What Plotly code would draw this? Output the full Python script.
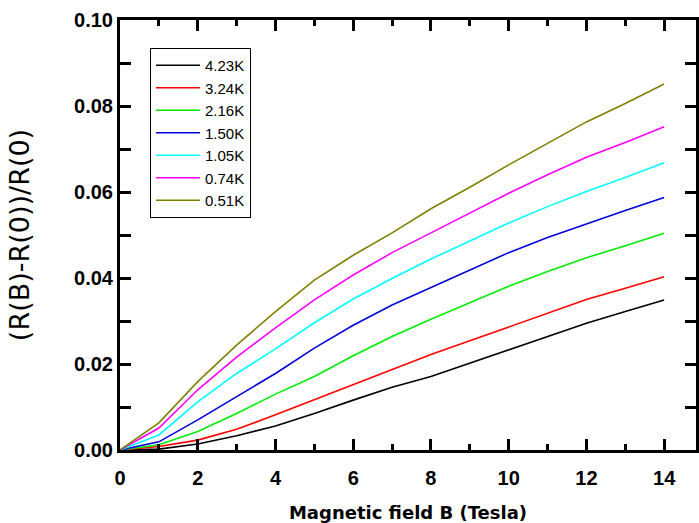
import plotly.graph_objects as go

field = [0, 1, 2, 3, 4, 5, 6, 7, 8, 9, 10, 11, 12, 13, 14]
labels = ["4.23K", "3.24K", "2.16K", "1.50K", "1.05K", "0.74K", "0.51K"]
r_423 = [0, 0.0002, 0.0014, 0.0033, 0.0056, 0.0085, 0.0116, 0.0146, 0.0171, 0.0202, 0.0233, 0.0264, 0.0295, 0.0322, 0.0349]
r_324 = [0, 0.0008, 0.0023, 0.0048, 0.0082, 0.0117, 0.0151, 0.0186, 0.0222, 0.0254, 0.0286, 0.0318, 0.0350, 0.0376, 0.0403]
r_216 = [0, 0.0012, 0.0043, 0.0085, 0.0130, 0.0171, 0.0219, 0.0264, 0.0304, 0.0342, 0.0381, 0.0415, 0.0447, 0.0475, 0.0504]
r_150 = [0, 0.0019, 0.0070, 0.0124, 0.0178, 0.0237, 0.0290, 0.0337, 0.0378, 0.0419, 0.0459, 0.0494, 0.0526, 0.0557, 0.0587]
r_105 = [0, 0.0035, 0.0112, 0.0178, 0.0235, 0.0296, 0.0351, 0.0399, 0.0444, 0.0486, 0.0528, 0.0566, 0.0601, 0.0634, 0.0668]
r_074 = [0, 0.0051, 0.0140, 0.0216, 0.0284, 0.0349, 0.0407, 0.0459, 0.0505, 0.0551, 0.0597, 0.0640, 0.0681, 0.0715, 0.0752]
r_051 = [0, 0.0063, 0.0159, 0.0244, 0.0322, 0.0395, 0.0453, 0.0505, 0.0561, 0.0611, 0.0663, 0.0714, 0.0763, 0.0806, 0.0851]
series = [r_423, r_324, r_216, r_150, r_105, r_074, r_051]
colors = ["#000000", "#ff0000", "#00ee00", "#0000dd", "#00ffff", "#ff00ff", "#808000"]

fig = go.Figure()
for lab, ys, c in zip(labels, series, colors):
    fig.add_trace(go.Scatter(x=field, y=ys, mode="lines", name=lab,
                             line=dict(color=c, width=1.6)))

tickfont = dict(family="Liberation Sans", size=20, color="black", weight="bold")
fig.update_layout(
    width=699, height=523,
    margin=dict(l=120, r=0, t=20, b=73),
    paper_bgcolor="white", plot_bgcolor="white",
    showlegend=True,
    legend=dict(x=0.052, y=0.935, xanchor="left", yanchor="top",
                bordercolor="black", borderwidth=1, bgcolor="white",
                font=dict(family="Liberation Sans", size=15, color="black"),
                tracegroupgap=0, itemwidth=44),
    xaxis=dict(range=[0, 14.82], tickvals=[0, 2, 4, 6, 8, 10, 12, 14],
               ticks="inside", ticklen=11, tickwidth=2.5, tickcolor="black",
               minor=dict(dtick=1, ticks="inside", ticklen=6, tickwidth=2.5, tickcolor="black"),
               showline=True, linewidth=3, linecolor="black", mirror="ticks",
               showgrid=False, zeroline=False, tickfont=tickfont, ticklabelstandoff=8,
               title=dict(text="Magnetic field B (Tesla)", standoff=19,
                          font=dict(family="DejaVu Sans", size=18, color="black", weight="bold"))),
    yaxis=dict(range=[0, 0.10], tickvals=[0, 0.02, 0.04, 0.06, 0.08, 0.10],
               ticktext=["0.00", "0.02", "0.04", "0.06", "0.08", "0.10"],
               ticks="inside", ticklen=11, tickwidth=2.5, tickcolor="black",
               minor=dict(dtick=0.01, ticks="inside", ticklen=11, tickwidth=2.5, tickcolor="black"),
               showline=True, linewidth=3, linecolor="black", mirror="ticks",
               showgrid=False, zeroline=False, tickfont=tickfont,
               title=dict(text="(R(B)-R(0))/R(0)", standoff=37,
                          font=dict(family="DejaVu Sans", size=27, color="black"))),
)
fig.write_html("out.html")
